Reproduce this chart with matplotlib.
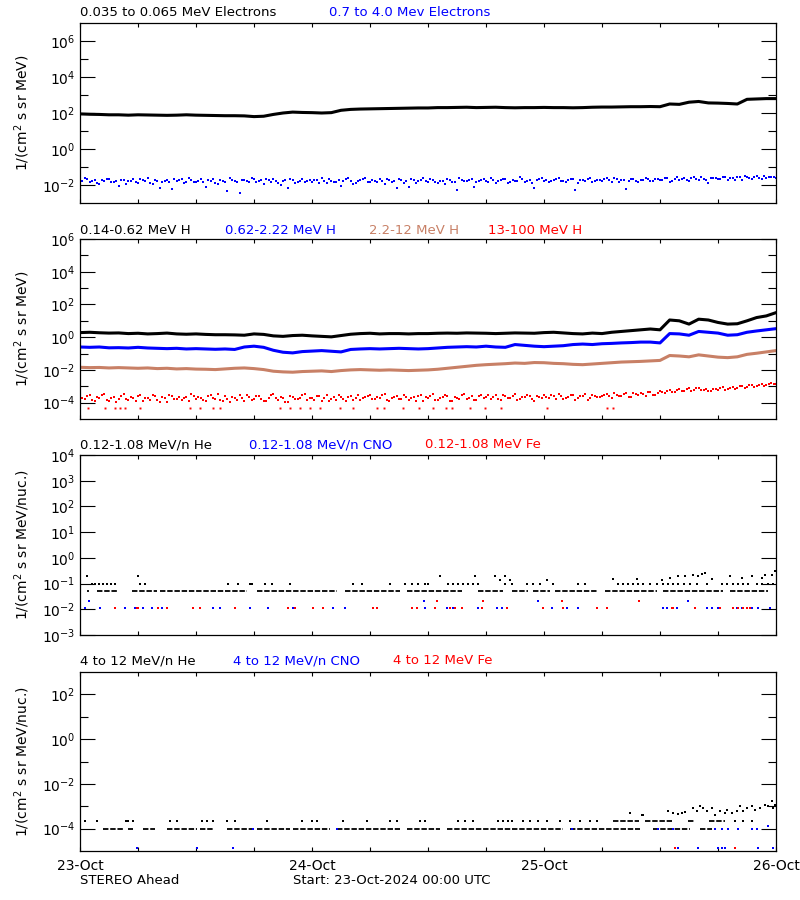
import numpy as np
import matplotlib
matplotlib.use("Agg")
import matplotlib.pyplot as plt
from matplotlib.ticker import FixedLocator, NullFormatter

# ---- data (hours since 23-Oct-2024 00:00 UTC, values as log10 flux) ----
hours = np.arange(0, 73)
half_hours = np.arange(0, 72.5, 0.5)
offset_hours = np.arange(0.25, 72, 0.5)

# panel 1: electrons
e_low = [1.95, 1.93, 1.92, 1.9, 1.9, 1.88, 1.9, 1.89, 1.88,
         1.87, 1.88, 1.9, 1.88, 1.87, 1.86, 1.85, 1.85, 1.84,
         1.8, 1.82, 1.92,
         2.0, 2.05, 2.03, 2.02, 2.0, 2.02,
         2.15, 2.2, 2.22, 2.23,
         2.24, 2.25, 2.26, 2.27, 2.28, 2.28, 2.3, 2.3, 2.31, 2.32,
         2.3, 2.31, 2.32, 2.3, 2.29, 2.3, 2.3, 2.31, 2.3, 2.3,
         2.29, 2.3, 2.32, 2.33, 2.33, 2.34, 2.35, 2.35, 2.36,
         2.35, 2.5, 2.48, 2.6, 2.64, 2.56, 2.55, 2.53, 2.5, 2.76, 2.78, 2.8, 2.8]
e_high = [-1.75, -1.62, -1.85, -1.70, -1.92, -1.78, -1.66, -1.83, -2.05, -1.74, -1.80, -1.69,
          -1.88, -1.72, -1.60, -1.95, -1.77, -1.84, -1.70, -2.20, -1.79, -1.65, -1.86, -1.73,
          -1.81, -1.68, -2.10, -1.76, -1.90, -1.71, -1.83, -1.62, -1.78, -2.45, -1.74, -1.86,
          -1.69, -1.80, -1.92, -1.72, -1.64, -1.87, -1.76, -2.15, -1.70, -1.82, -1.67, -1.79,
          -1.85, -1.73, -1.60, -1.91, -1.75, -1.81, -2.08, -1.68, -1.77, -1.88, -1.71, -1.63,
          -1.84, -1.76, -1.69, -1.93, -1.72, -1.80, -1.66, -1.87, -2.12, -1.74, -1.79, -1.61,
          -1.83, -1.70, -1.89, -1.75, -1.64, -1.82, -2.25, -1.73, -1.78, -1.67, -1.86, -1.71,
          -1.79, -1.62, -1.88, -1.74, -1.69, -1.81, -1.76, -1.58, -1.84, -1.72, -2.18, -1.67,
          -1.77, -1.85, -1.70, -1.63, -1.80, -1.74, -1.68, -1.90, -1.73, -1.65, -1.82, -1.71,
          -1.76, -1.60, -1.84, -1.69, -1.73, -2.20, -1.66, -1.79, -1.71, -1.62, -1.77, -1.68,
          -1.74, -1.59, -1.81, -1.67, -1.72, -1.63, -1.78, -1.57, -1.70, -1.65, -1.88, -1.61,
          -1.69, -1.56, -1.73, -1.62, -1.58, -1.70, -1.55, -1.64, -1.52, -1.67, -1.59, -1.54,
          -1.60]
e_high_b = [-1.80, -1.68, -1.77, -1.91, -1.73, -1.64, -1.86, -1.75, -1.70, -1.95, -1.78, -1.83,
            -1.66, -1.79, -1.87, -1.72, -2.15, -1.76, -1.81, -1.69, -1.74, -1.90, -1.63, -1.82,
            -1.77, -1.85, -1.71, -1.66, -1.93, -1.80, -2.35, -1.73, -1.84, -1.70, -1.78, -1.61,
            -1.86, -1.74, -1.68, -1.83, -1.79, -2.02, -1.72, -1.65, -1.88, -1.76, -1.81, -1.70,
            -1.74, -1.89, -1.78, -1.67, -1.84, -1.72, -1.80, -1.62, -1.95, -1.75, -1.69, -1.83,
            -1.71, -1.86, -1.78, -1.65, -1.82, -2.18, -1.74, -1.80, -1.68, -1.90, -1.73, -1.77,
            -1.66, -1.81, -1.75, -1.92, -1.70, -1.84, -1.63, -1.79, -1.72, -2.10, -1.76, -1.69,
            -1.83, -1.71, -1.78, -1.64, -1.87, -1.74, -1.80, -1.67, -1.75, -1.88, -1.70, -1.61,
            -1.72, -1.80, -1.66, -1.76, -1.84, -1.69, -2.30, -1.73, -1.79, -1.62, -1.77, -1.70,
            -1.68, -1.74, -1.60, -1.82, -1.71, -1.77, -1.65, -1.86, -1.73, -1.67, -1.80, -1.64,
            -1.70, -1.62, -1.76, -1.58, -1.68, -1.74, -1.61, -1.69, -1.56, -1.72, -1.63, -1.59,
            -1.66, -1.54, -1.61, -1.70, -1.57, -1.52, -1.63, -1.56, -1.60, -1.50, -1.58, -1.53]

# panel 2: protons
h1 = [0.28, 0.3, 0.27, 0.25, 0.26, 0.22, 0.24, 0.2, 0.22, 0.25, 0.2, 0.18,
      0.2, 0.17, 0.15, 0.15, 0.14, 0.12, 0.2, 0.17, 0.08, 0.05, 0.1, 0.12,
      0.08, 0.05, 0.02, 0.1, 0.18, 0.22, 0.24, 0.2, 0.22, 0.22, 0.2, 0.22,
      0.22, 0.24, 0.25, 0.24, 0.26, 0.25, 0.24, 0.22, 0.24, 0.26, 0.25, 0.24,
      0.28, 0.3, 0.26, 0.22, 0.2, 0.25, 0.22, 0.3, 0.35, 0.4, 0.45, 0.5,
      0.45, 1.05, 1.0, 0.8, 1.1, 1.05, 0.9, 0.8, 0.82, 1.0, 1.2, 1.3, 1.5]
h2 = [-0.6, -0.62, -0.6, -0.65, -0.64, -0.66, -0.62, -0.66, -0.68, -0.7, -0.68, -0.72,
      -0.7, -0.72, -0.74, -0.72, -0.75, -0.6, -0.55, -0.62, -0.8, -0.92, -0.96, -0.88,
      -0.85, -0.82, -0.86, -0.9, -0.75, -0.72, -0.7, -0.72, -0.7, -0.68, -0.7, -0.72,
      -0.7, -0.66, -0.62, -0.6, -0.58, -0.6, -0.55, -0.6, -0.62, -0.45, -0.5, -0.55,
      -0.58, -0.55, -0.52, -0.45, -0.42, -0.45, -0.4, -0.38, -0.35, -0.33, -0.3, -0.3,
      -0.35, 0.22, 0.2, 0.12, 0.35, 0.3, 0.25, 0.12, 0.15, 0.3, 0.38, 0.45, 0.52]
h3 = [-1.84, -1.86, -1.85, -1.88, -1.86, -1.88, -1.9, -1.88, -1.92, -1.9, -1.94, -1.92,
      -1.95, -1.96, -1.98, -1.94, -1.9, -1.88, -1.92, -1.98, -2.08, -2.12, -2.14, -2.1,
      -2.08, -2.06, -2.1, -2.04, -2.0, -1.98, -2.0, -2.02, -2.0, -2.02, -2.04, -2.02,
      -2.0, -1.96, -1.9, -1.84, -1.78, -1.72, -1.68, -1.65, -1.62, -1.58, -1.6, -1.55,
      -1.56, -1.6, -1.62, -1.66, -1.68, -1.64, -1.6, -1.56, -1.52, -1.5, -1.48, -1.45,
      -1.42, -1.12, -1.15, -1.2, -1.08, -1.15, -1.22, -1.25, -1.2, -1.05, -0.98, -0.9, -0.82]
h4 = [-3.62, -3.80, -3.55, -3.88, -3.70, -3.45, -3.92, -3.66, -3.78, -3.50, -3.85, -3.72,
      -3.60, -3.90, -3.74, -3.52, -3.82, -3.68, -3.95, -3.58, -3.76, -3.86, -3.64, -3.48,
      -3.80, -3.70, -3.92, -3.56, -3.75, -3.84, -3.62, -3.98, -3.72, -3.54, -3.88, -3.66,
      -3.78, -3.60, -3.90, -3.70, -3.50, -3.84, -3.74, -3.94, -3.64, -3.80, -3.56, -3.86,
      -3.72, -3.62, -3.88, -3.52, -3.76, -3.82, -3.66, -3.92, -3.58, -3.74, -3.86, -3.68,
      -3.56, -3.80, -3.70, -3.46, -3.90, -3.64, -3.76, -3.54, -3.84, -3.68, -3.60, -3.88,
      -3.72, -3.50, -3.82, -3.66, -3.58, -3.92, -3.70, -3.56, -3.78, -3.62, -3.86, -3.52,
      -3.68, -3.76, -3.54, -3.84, -3.62, -3.72, -3.50, -3.80, -3.66, -3.58, -3.88, -3.64,
      -3.56, -3.74, -3.62, -3.48, -3.80, -3.66, -3.54, -3.72, -3.60, -3.84, -3.52, -3.68,
      -3.58, -3.46, -3.70, -3.54, -3.62, -3.40, -3.66, -3.50, -3.44, -3.60, -3.38, -3.52,
      -3.30, -3.42, -3.22, -3.36, -3.18, -3.28, -3.12, -3.24, -3.08, -3.20, -3.30, -3.14,
      -3.22, -3.06, -3.16, -3.02, -3.10, -2.96, -3.04, -2.90, -2.98, -2.86, -2.94, -2.80,
      -2.84]
h4_b = [-3.74, -3.58, -3.86, -3.66, -3.52, -3.82, -3.70, -3.95, -3.60, -3.76, -3.64, -3.88,
        -3.54, -3.72, -3.84, -3.62, -3.96, -3.70, -3.56, -3.80, -3.66, -3.74, -3.90, -3.58,
        -3.68, -3.86, -3.60, -3.74, -3.50, -3.92, -3.78, -3.64, -3.84, -3.70, -3.56, -3.82,
        -3.62, -3.76, -3.88, -3.54, -3.72, -3.66, -3.96, -3.60, -3.80, -3.70, -3.50, -3.74,
        -3.84, -3.58, -3.70, -3.90, -3.64, -3.52, -3.78, -3.68, -3.82, -3.56, -3.72, -3.62,
        -3.76, -3.64, -3.52, -3.86, -3.70, -3.58, -3.80, -3.66, -3.74, -3.92, -3.54, -3.68,
        -3.60, -3.82, -3.72, -3.56, -3.88, -3.64, -3.76, -3.50, -3.70, -3.84, -3.62, -3.74,
        -3.56, -3.66, -3.80, -3.52, -3.72, -3.60, -3.86, -3.68, -3.54, -3.76, -3.62, -3.70,
        -3.64, -3.52, -3.76, -3.60, -3.70, -3.56, -3.82, -3.62, -3.50, -3.74, -3.58, -3.66,
        -3.52, -3.62, -3.44, -3.58, -3.50, -3.66, -3.42, -3.56, -3.48, -3.36, -3.54, -3.44,
        -3.36, -3.26, -3.34, -3.20, -3.30, -3.16, -3.26, -3.10, -3.22, -3.14, -3.26, -3.18,
        -3.12, -3.20, -3.08, -3.14, -3.00, -3.08, -2.94, -3.02, -2.92, -2.98, -2.84, -2.88]
h4_low_t = [0.8, 2.6, 3.6, 4.1, 4.7, 6.2, 11.4, 12.4, 13.8, 14.5, 20.7, 21.7, 22.8, 23.8,
            24.8, 26.9, 28.2, 30.7, 31.4, 33.4, 35.1, 36.5, 37.9, 38.5, 40.3, 41.9, 43.6,
            48.3, 54.5, 55.1]
h4_low = -4.35

# panel 3: 0.12-1.08 MeV/n heavy ions
he_lo_runs = [(0.7, 0.9), (1.8, 3.8), (5.4, 8.0), (8.3, 17.3), (18.3, 26.6), (27.4, 33.1),
              (33.8, 39.5), (41.2, 43.8), (44.7, 46.3), (46.9, 48.6), (49.1, 53.5),
              (54.3, 59.7), (60.3, 66.5), (67.2, 71.2)]
he_lo = -1.3
he_mid_t = [1.2, 1.6, 2.0, 2.4, 2.8, 3.2, 3.6, 6.2, 6.7, 15.3, 16.3, 17.6, 17.8, 19.1, 19.9,
            21.7, 28.2, 29.2, 32.1, 33.6, 34.3, 35.0, 35.7, 36.0, 38.1, 38.6, 39.1, 39.6,
            40.1, 40.7, 41.2, 44.0, 44.7, 46.2, 46.9, 47.6, 48.9, 51.5, 52.2, 55.7, 56.2,
            56.7, 57.2, 57.7, 58.2, 59.0, 59.7, 60.3, 60.8, 61.3, 61.9, 62.5, 63.1, 63.8,
            64.9, 66.4, 66.9, 67.5, 68.1, 68.6, 69.1, 70.0, 70.6, 71.2, 71.7]
he_mid = -1.0
he_up_t = [0.7, 6.0, 37.2, 40.9, 42.9, 43.4, 44.0, 44.5, 48.3, 55.1, 57.6, 60.2, 61.0, 61.9,
           62.6, 63.4, 63.9, 64.3, 64.7, 65.4, 67.2, 68.5, 69.5, 70.6, 70.9, 71.6, 71.9]
he_up = [-0.7, -0.7, -0.7, -0.7, -0.72, -0.85, -0.7, -0.85, -0.85, -0.82, -0.82, -0.85, -0.8,
         -0.7, -0.7, -0.65, -0.72, -0.62, -0.6, -0.82, -0.72, -0.8, -0.7, -0.8, -0.65, -0.65,
         -0.52]
cno_t = [0.5, 2.1, 4.7, 5.7, 6.5, 7.4, 8.5, 13.8, 14.5, 17.6, 19.4, 22.0, 26.2, 27.4, 34.3,
         35.7, 36.7, 38.0, 38.6, 41.2, 43.1, 43.7, 48.8, 50.0, 50.4, 51.5, 60.3, 60.7, 61.8,
         64.9, 65.4, 66.0, 67.5, 68.0, 68.5, 69.5, 70.1, 71.4]
cno_up_t = [0.9, 35.6, 47.4, 62.9]
fe_t = [3.6, 5.9, 6.0, 8.1, 9.0, 11.7, 12.4, 16.0, 21.5, 22.2, 24.1, 25.1, 30.3, 30.7, 34.3,
        34.9, 36.7, 38.3, 38.8, 39.5, 41.6, 44.2, 47.9, 50.0, 53.5, 54.5, 61.2, 61.3, 63.6,
        66.2, 67.5, 68.1, 68.6, 69.0, 69.3]
fe_up_t = [36.9, 41.7, 49.9, 57.8]
ion_lo, ion_up = -1.96, -1.66

# panel 4: 4-12 MeV/n heavy ions
he4_base_runs = [(2.4, 4.4), (5.0, 5.5), (6.5, 7.8), (9.0, 12.1), (12.4, 13.8), (15.2, 17.9),
                 (18.3, 21.7), (22.0, 25.9), (26.6, 33.1), (33.8, 37.2), (38.0, 50.0),
                 (50.7, 57.9), (59.3, 63.1), (64.1, 65.4)]
he4_base = -4.0
he4_two_runs = [(55.1, 57.8), (58.4, 61.2), (62.9, 63.5), (65.1, 66.7)]
he4_two_t = [0.5, 1.8, 4.8, 5.0, 5.5, 9.3, 10.0, 12.6, 13.1, 13.8, 15.2, 16.0, 19.3, 23.0,
             24.0, 24.5, 27.2, 29.7, 32.1, 32.8, 35.2, 35.7, 39.1, 39.8, 40.7, 43.2, 43.8,
             44.3, 44.7, 45.8, 46.6, 47.4, 48.3, 49.7, 50.7, 51.7, 52.8, 53.5, 67.8, 68.6, 69.5]
he4_two = -3.68
he4_up_t = [56.9, 58.1, 58.2, 60.8, 61.3, 61.9, 62.3, 62.6, 63.4, 63.8, 64.1, 64.4, 64.9, 65.4,
            65.7, 66.2, 66.7, 66.9, 67.4, 68.0, 68.3, 68.6, 69.0, 69.5, 69.8, 70.3, 70.9,
            71.2, 71.6, 71.7, 71.9]
he4_up = [-3.3, -3.4, -3.37, -3.19, -3.28, -3.33, -3.3, -3.24, -3.06, -3.2, -3.0, -3.06, -3.2,
          -3.06, -3.37, -3.2, -3.28, -3.15, -3.28, -3.2, -3.0, -3.2, -3.1, -3.0, -3.15, -3.06,
          -2.93, -3.0, -2.78, -3.06, -2.93]
cno4_t = [17.9, 26.6, 50.9, 59.8, 61.3, 65.7, 66.4, 67.0, 68.1, 69.5, 70.0, 71.2]
cno4 = [-4.0] * 11 + [-3.9]
cno4_bot_t = [5.9, 12.1, 15.8, 61.9, 63.9, 66.0, 66.4, 66.7, 70.1, 71.7]
fe4_bot_t = [61.5, 67.8]
bottom4 = -4.85

day_labels = ["23-Oct", "24-Oct", "25-Oct", "26-Oct"]

# ---- figure ----
W, H = 800, 900
fig = plt.figure(figsize=(W / 100, H / 100), dpi=100)
plt.rcParams['font.family'] = 'DejaVu Sans'

brown = '#c88066'
blue = '#0000ff'
red = '#ff0000'

boxes = [(23, 203), (239, 419), (455, 635), (672, 851)]
L, R = 80, 776


def make_axes(top, bot):
    return fig.add_axes([L / W, 1 - bot / H, (R - L) / W, (bot - top) / H])


def dots(ax, t, v, c, ms=1.7):
    ax.plot(t, 10.0 ** np.asarray(v, dtype=float), 's', color=c, ms=ms, mew=0, ls='none')


def runs(ax, rr, level, c):
    ax.hlines([10.0 ** level] * len(rr), [r[0] for r in rr], [r[1] for r in rr],
              colors=c, lw=1.3, linestyles=[(0, (3, 1))])


def style(ax, ylim, major, minor, ylabel, bottom=False):
    ax.set_yscale('log')
    ax.set_ylim(ylim)
    ax.set_xlim(0, 72)
    ax.yaxis.set_major_locator(FixedLocator(major))
    ax.yaxis.set_minor_locator(FixedLocator(minor))
    ax.yaxis.set_minor_formatter(NullFormatter())
    ticks = np.arange(0, 73, 6)
    ax.set_xticks(ticks)
    if bottom:
        ax.set_xticklabels([day_labels[int(h) // 24] if h % 24 == 0 else '' for h in ticks])
    else:
        ax.set_xticklabels([])
    ax.tick_params(axis='x', which='both', direction='in', top=True, length=3, width=0.8,
                   labelsize=10, pad=6)
    ax.tick_params(axis='y', which='major', direction='in', right=True, length=11, width=0.8,
                   labelsize=10)
    ax.tick_params(axis='y', which='minor', direction='in', right=True, length=5.5, width=0.8)
    for s in ax.spines.values():
        s.set_linewidth(0.9)
    ax.set_ylabel(ylabel, fontsize=10)
    ax.yaxis.set_label_coords(-48 / (R - L), 0.5)


def titles(y_px, items):
    for x_px, txt, c in items:
        fig.text(x_px / W, 1 - y_px / H, txt, color=c, fontsize=9.5, ha='left', va='center')


unit = '1/(cm$^2$ s sr MeV)'
unit_n = '1/(cm$^2$ s sr MeV/nuc.)'

# panel 1
ax1 = make_axes(*boxes[0])
ax1.plot(hours, 10.0 ** np.array(e_low), color='k', lw=2.2)
dots(ax1, half_hours, e_high, blue)
dots(ax1, offset_hours, e_high_b, blue)
style(ax1, (1e-3, 1e7), [10.0 ** k for k in (-2, 0, 2, 4, 6)],
      [10.0 ** k for k in (-1, 1, 3, 5)], unit)
titles(13, [(80, '0.035 to 0.065 MeV Electrons', 'k'), (329, '0.7 to 4.0 Mev Electrons', blue)])

# panel 2
ax2 = make_axes(*boxes[1])
ax2.plot(hours, 10.0 ** np.array(h1), color='k', lw=2.2)
ax2.plot(hours, 10.0 ** np.array(h2), color=blue, lw=2.2)
ax2.plot(hours, 10.0 ** np.array(h3), color=brown, lw=2.2)
dots(ax2, half_hours, h4, red)
dots(ax2, offset_hours, h4_b, red)
dots(ax2, h4_low_t, [h4_low] * len(h4_low_t), red, ms=1.4)
style(ax2, (1e-5, 1e6), [10.0 ** k for k in (-4, -2, 0, 2, 4, 6)],
      [10.0 ** k for k in (-3, -1, 1, 3, 5)], unit)
titles(230, [(80, '0.14-0.62 MeV H', 'k'), (225, '0.62-2.22 MeV H', blue),
             (369, '2.2-12 MeV H', brown), (488, '13-100 MeV H', red)])

# panel 3
ax3 = make_axes(*boxes[2])
runs(ax3, he_lo_runs, he_lo, 'k')
dots(ax3, he_mid_t, [he_mid] * len(he_mid_t), 'k', ms=1.5)
dots(ax3, he_up_t, he_up, 'k', ms=1.5)
dots(ax3, cno_t, [ion_lo] * len(cno_t), blue, ms=1.8)
dots(ax3, cno_up_t, [ion_up] * len(cno_up_t), blue, ms=1.8)
dots(ax3, fe_t, [ion_lo] * len(fe_t), red, ms=1.8)
dots(ax3, fe_up_t, [ion_up] * len(fe_up_t), red, ms=1.8)
style(ax3, (1e-3, 1e4), [10.0 ** k for k in range(-3, 5)], [], unit_n)
titles(445, [(80, '0.12-1.08 MeV/n He', 'k'), (249, '0.12-1.08 MeV/n CNO', blue),
             (425, '0.12-1.08 MeV Fe', red)])

# panel 4
ax4 = make_axes(*boxes[3])
runs(ax4, he4_base_runs, he4_base, 'k')
runs(ax4, he4_two_runs, he4_two, 'k')
dots(ax4, he4_two_t, [he4_two] * len(he4_two_t), 'k', ms=1.5)
dots(ax4, he4_up_t, he4_up, 'k', ms=1.5)
dots(ax4, cno4_t, cno4, blue, ms=1.8)
dots(ax4, cno4_bot_t, [bottom4] * len(cno4_bot_t), blue, ms=1.8)
dots(ax4, fe4_bot_t, [bottom4] * len(fe4_bot_t), red, ms=1.8)
style(ax4, (1e-5, 1e3), [10.0 ** k for k in (-4, -2, 0, 2)],
      [10.0 ** k for k in (-3, -1, 1)], unit_n, bottom=True)
titles(661, [(80, '4 to 12 MeV/n He', 'k'), (233, '4 to 12 MeV/n CNO', blue),
             (393, '4 to 12 MeV Fe', red)])

fig.text(80 / W, 1 - 881 / H, 'STEREO Ahead', fontsize=9.5, ha='left', va='center')
fig.text(293 / W, 1 - 881 / H, 'Start: 23-Oct-2024 00:00 UTC', fontsize=9.5, ha='left',
         va='center')

fig.savefig('out.png', dpi=100)
